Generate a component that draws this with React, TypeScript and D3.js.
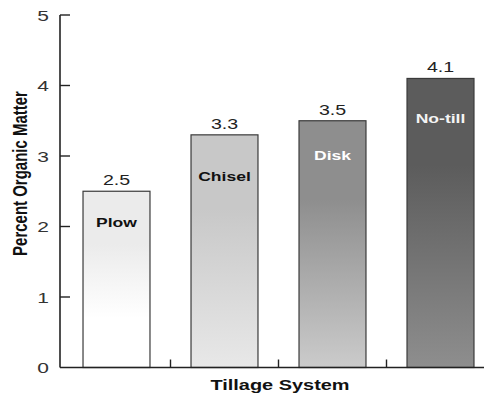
import React from "react";
import * as d3 from "d3";

const categories = ["Plow", "Chisel", "Disk", "No-till"];
const values = [2.5, 3.3, 3.5, 4.1];
const valueLabels = ["2.5", "3.3", "3.5", "4.1"];
const yTicks = [0, 1, 2, 3, 4, 5];
const xTitle = "Tillage System";
const yTitle = "Percent Organic Matter";

// styling (not data)
const topColors = ["#ebebeb", "#c8c8c8", "#8e8e8e", "#5c5c5c"];
const bottomColors = ["#ffffff", "#e8e8e8", "#cbcbcb", "#8e8e8e"];
const solidFrac = [0.3, 0.32, 0.32, 0.3];
const fadeEnd = [0.72, 1, 1, 1];
const labelColors = ["#111", "#111", "#fff", "#f4f4f4"];
const labelDrop = [31, 41, 34, 40];

const W = 486;
const H = 394;
const SX = 1.4;
const font = "'Liberation Sans', Arial, Helvetica, sans-serif";

export default function App() {
  const axisX = 60;
  const axisY = 367.5;
  const y = d3.scaleLinear().domain([0, 5]).range([axisY, 15]);
  const x = d3
    .scaleBand<string>()
    .domain(categories)
    .range([62.5, 494.5])
    .paddingInner(0.38)
    .paddingOuter(0.19);
  const step = x.step();
  const dividers = categories.slice(1).map((c) => (x(c) as number) - (step - x.bandwidth()) / 2);

  return (
    <svg
      width={W}
      height={H}
      style={{ position: "absolute", left: 0, top: 0, background: "#fff" }}
      fontFamily={font}
    >
      <defs>
        {categories.map((c, i) => (
          <linearGradient key={c} id={`g${i}`} x1="0" y1="0" x2="0" y2="1">
            <stop offset="0" stopColor={topColors[i]} />
            <stop offset={solidFrac[i]} stopColor={topColors[i]} />
            <stop offset={fadeEnd[i]} stopColor={bottomColors[i]} />
            <stop offset="1" stopColor={bottomColors[i]} />
          </linearGradient>
        ))}
      </defs>

      {/* bars */}
      {categories.map((c, i) => {
        const bx = x(c) as number;
        const by = y(values[i]);
        const bw = x.bandwidth();
        const bh = axisY - by;
        const cx = bx + bw / 2;
        return (
          <g key={c}>
            <rect x={bx} y={by} width={bw} height={bh} fill={`url(#g${i})`} stroke="#3a3a3a" strokeWidth={1.2} />
            <text
              transform={`translate(${cx},${by - 6}) scale(${SX},1)`}
              textAnchor="middle"
              fontSize={14}
              fill="#222"
            >
              {valueLabels[i]}
            </text>
            <text
              transform={`translate(${cx},${by + labelDrop[i] + 5}) scale(1.35,1)`}
              textAnchor="middle"
              fontSize={13}
              fontWeight="bold"
              fill={labelColors[i]}
            >
              {c}
            </text>
          </g>
        );
      })}

      {/* y axis */}
      <line x1={axisX} x2={axisX} y1={y(5)} y2={axisY} stroke="#222" strokeWidth={1.6} />
      {yTicks.map((t) => (
        <g key={t}>
          {t > 0 && <line x1={axisX} x2={axisX + 10} y1={y(t)} y2={y(t)} stroke="#222" strokeWidth={1.4} />}
          <text
            transform={`translate(${49},${y(t) + 5.5}) scale(${SX},1)`}
            textAnchor="end"
            fontSize={15}
            fill="#333"
          >
            {t}
          </text>
        </g>
      ))}

      {/* x axis */}
      <line x1={axisX} x2={484} y1={axisY} y2={axisY} stroke="#222" strokeWidth={1.6} />
      {dividers.map((d, i) => (
        <line key={i} x1={d} x2={d} y1={axisY} y2={axisY - 8} stroke="#222" strokeWidth={1.4} />
      ))}

      {/* titles */}
      <text
        transform={`translate(280,${390}) scale(1.33,1)`}
        textAnchor="middle"
        fontSize={15}
        fontWeight="bold"
        fill="#111"
      >
        {xTitle}
      </text>
      <text
        transform={`translate(26.5,173.5) rotate(-90) scale(1,1.3)`}
        textAnchor="middle"
        fontSize={15}
        fontWeight="bold"
        fill="#111"
      >
        {yTitle}
      </text>
    </svg>
  );
}
